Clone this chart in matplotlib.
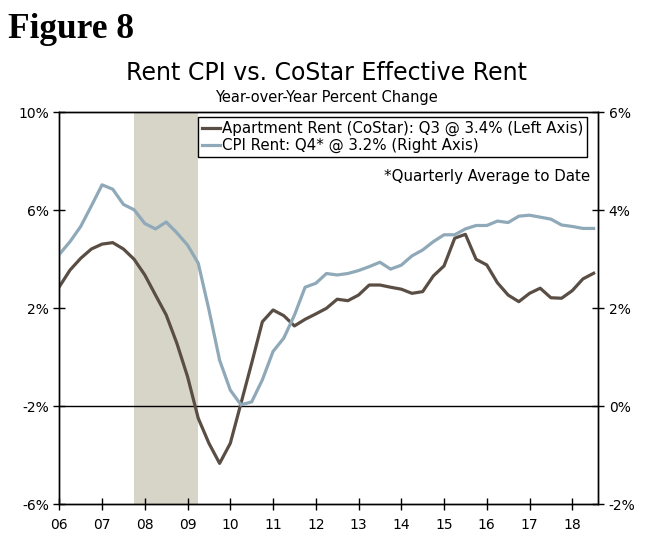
import numpy as np
import matplotlib
matplotlib.use('Agg')
import matplotlib.pyplot as plt

# Quarterly data, 2006 Q1 - 2018 Q3
costar = [2.88, 3.56, 4.04, 4.42, 4.62, 4.68, 4.42, 4.00, 3.36, 2.54,
          1.73, 0.57, -0.79, -2.49, -3.51, -4.33, -3.51, -1.88, -0.24, 1.45,
          1.93, 1.70, 1.28, 1.55, 1.77, 2.00, 2.37, 2.31, 2.54, 2.95,
          2.95, 2.86, 2.78, 2.61, 2.68, 3.32, 3.73, 4.86, 5.02, 4.00,
          3.77, 3.04, 2.54, 2.27, 2.61, 2.82, 2.43, 2.41, 2.72, 3.20,
          3.43]
cpi_rent = [3.10, 3.36, 3.67, 4.09, 4.52, 4.43, 4.12, 4.01, 3.73, 3.62,
            3.76, 3.54, 3.29, 2.92, 1.97, 0.94, 0.33, 0.03, 0.09, 0.54,
            1.12, 1.39, 1.86, 2.43, 2.51, 2.71, 2.68, 2.71, 2.77, 2.85,
            2.94, 2.80, 2.88, 3.07, 3.19, 3.36, 3.50, 3.50, 3.62, 3.69,
            3.69, 3.78, 3.75, 3.88, 3.90, 3.86, 3.82, 3.70, 3.67, 3.63,
            3.63]
years = list(range(2006, 2019))
year_labels = ['06', '07', '08', '09', '10', '11', '12', '13', '14', '15', '16', '17', '18']
recession = (2007.75, 2009.25)

x = 2006 + np.arange(len(costar)) / 4

brown = '#5a4e44'
blue = '#8fa9b9'

fig = plt.figure(figsize=(6.57, 5.42), dpi=100)
ax = fig.add_axes([0.0903, 0.0696, 0.8204, 0.7232])
ax2 = ax.twinx()

ax.axvspan(recession[0], recession[1], color='#d7d4c8', lw=0, zorder=0)
ax.axhline(-2, color='black', lw=1, zorder=1)

l1, = ax.plot(x, costar, color=brown, lw=2.3, zorder=3,
              label='Apartment Rent (CoStar): Q3 @ 3.4% (Left Axis)')
l2, = ax2.plot(x, cpi_rent, color=blue, lw=2.3, zorder=2,
               label='CPI Rent: Q4* @ 3.2% (Right Axis)')

ax.set_xlim(2006, 2018.61)
ax.set_ylim(-6, 10)
ax2.set_ylim(-2, 6)
ax.set_yticks([-6, -2, 2, 6, 10])
ax.set_yticklabels(['-6%', '-2%', '2%', '6%', '10%'])
ax2.set_yticks([-2, 0, 2, 4, 6])
ax2.set_yticklabels(['-2%', '0%', '2%', '4%', '6%'])
ax.set_xticks(years)
ax.set_xticklabels(year_labels)

for a in (ax, ax2):
    for s in a.spines.values():
        s.set_color('black')
        s.set_linewidth(1)
    a.tick_params(direction='inout', length=8, width=1, labelsize=10, colors='black')
ax.tick_params(axis='x', pad=6)

# Titres
fig.text(0.012, 0.93, 'Figure 8', family='Liberation Serif', weight='bold', fontsize=25.5)
fig.text(0.497, 0.852, 'Rent CPI vs. CoStar Effective Rent', ha='center', fontsize=17)
fig.text(0.497, 0.812, 'Year-over-Year Percent Change', ha='center', fontsize=10.5)

leg = fig.legend(handles=[l1, l2], loc='upper left', bbox_to_anchor=(198 / 657, 1 - 117 / 542),
                 fontsize=10.8, frameon=True, fancybox=False, edgecolor='black', framealpha=1,
                 handlelength=1.2, handletextpad=0.15, borderpad=0.25, labelspacing=0.15,
                 borderaxespad=0)
leg.get_frame().set_linewidth(1)

fig.text(590 / 657, 1 - 177 / 542, '*Quarterly Average to Date', ha='right', va='center', fontsize=10.8)

fig.savefig('out.png', dpi=100)
